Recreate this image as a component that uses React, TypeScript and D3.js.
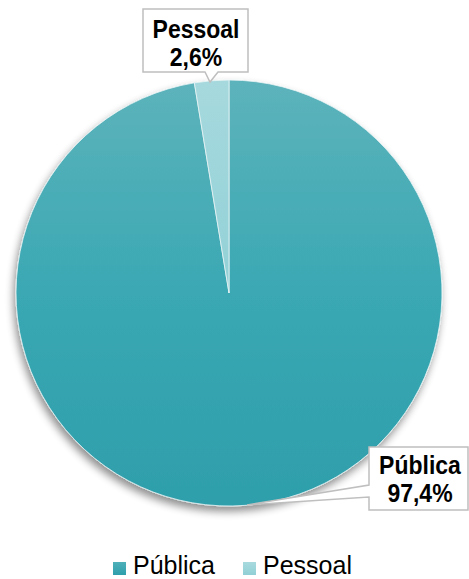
import React from "react";
import * as d3 from "d3";

const categories = ["Pública", "Pessoal"];
const values = [97.4, 2.6];
const labels = ["97,4%", "2,6%"];
const colors = ["#37a6b1", "#9ed6dc"];

export default function App() {
  const W = 469, H = 579;
  const cx = 229, cy = 293, r = 213;
  const pie = d3.pie<number>().sort(null).value((d) => d)(values);
  const arc = d3.arc<d3.PieArcDatum<number>>().innerRadius(0).outerRadius(r);
  const font = "Arial, 'Liberation Sans', sans-serif";

  const Bold = ({ x, y, t }: { x: number; y: number; t: string }) => (
    <text
      transform={`translate(${x},${y}) scale(1,1.12)`}
      textAnchor="middle"
      fontFamily={font}
      fontWeight="bold"
      fontSize={23}
      fill="#000"
    >
      {t}
    </text>
  );

  return (
    <svg width={W} height={H} style={{ position: "absolute", left: 0, top: 0 }}>
      <defs>
        <linearGradient id="gPub" x1="0" y1="0" x2="0" y2="1">
          <stop offset="0" stopColor="#5db3bb" />
          <stop offset="0.5" stopColor="#3aa8b3" />
          <stop offset="1" stopColor="#2e9fab" />
        </linearGradient>
        <linearGradient id="gPes" x1="0" y1="0" x2="0" y2="1">
          <stop offset="0" stopColor="#a6d9de" />
          <stop offset="1" stopColor="#92d1d7" />
        </linearGradient>
        <linearGradient id="gLeg0" x1="0" y1="0" x2="0" y2="1">
          <stop offset="0" stopColor="#4fb0b9" />
          <stop offset="1" stopColor="#2e9fab" />
        </linearGradient>
        <linearGradient id="gLeg1" x1="0" y1="0" x2="0" y2="1">
          <stop offset="0" stopColor="#a8dade" />
          <stop offset="1" stopColor="#90d0d6" />
        </linearGradient>
        <filter id="sh" x="-20%" y="-20%" width="140%" height="140%">
          <feGaussianBlur in="SourceAlpha" stdDeviation="4" />
          <feOffset dx="-2" dy="5" result="b" />
          <feComponentTransfer>
            <feFuncA type="linear" slope="0.45" />
          </feComponentTransfer>
          <feMerge>
            <feMergeNode />
            <feMergeNode in="SourceGraphic" />
          </feMerge>
        </filter>
      </defs>
      <g transform={`translate(${cx},${cy})`} filter="url(#sh)">
        {pie.map((p, i) => (
          <path
            key={categories[i]}
            d={arc(p) || ""}
            fill={i === 0 ? "url(#gPub)" : "url(#gPes)"}
            stroke="#e8f4f5"
            strokeWidth={0.8}
          />
        ))}
      </g>
      {/* Pessoal callout */}
      <path
        d="M143,9 L248,9 L248,72 L218,72 L210,82 L205,72 L143,72 Z"
        fill="#fff"
        stroke="#bfbfbf"
        strokeWidth={1.5}
      />
      <Bold x={196} y={38} t={categories[1]} />
      <Bold x={196} y={66} t={labels[1]} />
      {/* Pública callout */}
      <path
        d="M369,447 L468,447 L468,510 L369,510 L369,497 L247,505 L369,485 Z"
        fill="#fff"
        stroke="#bfbfbf"
        strokeWidth={1.5}
      />
      <Bold x={420} y={474} t={categories[0]} />
      <Bold x={420} y={502} t={labels[0]} />
      {/* Legend */}
      {categories.map((c, i) => {
        const x0 = i === 0 ? 113 : 243;
        return (
          <g key={c}>
            <rect x={x0} y={562} width={13} height={13} fill={`url(#gLeg${i})`} />
            <text x={x0 + 20} y={574} fontFamily={font} fontSize={25} fill="#000">
              {c}
            </text>
          </g>
        );
      })}
    </svg>
  );
}
